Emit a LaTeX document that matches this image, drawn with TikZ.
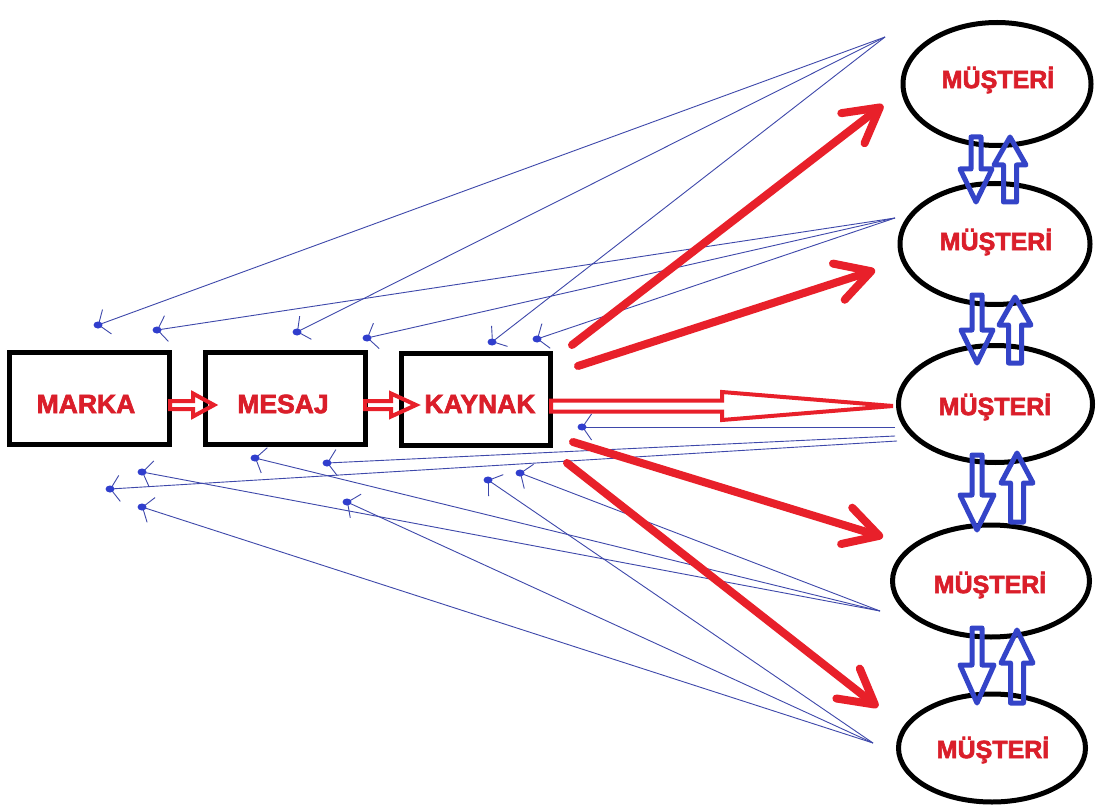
\documentclass[tikz,border=0pt]{standalone}
\usepackage{fontspec}
\setmainfont{Liberation Sans}[BoldFeatures={FakeBold=2.5}]
\usetikzlibrary{arrows.meta,shapes.geometric}
\definecolor{txtred}{RGB}{218,30,42}
\definecolor{arrred}{RGB}{232,32,42}
\definecolor{blkblue}{RGB}{52,68,200}
\definecolor{thinblue}{RGB}{62,72,170}
\definecolor{dotblue}{RGB}{48,62,205}
\tikzset{
  pics/hollowarrow/.style args={#1/#2/#3/#4}{code={
    \draw (0,#2) -- ({#1-#4},#2) -- ({#1-#4},#3) -- (#1,0) -- ({#1-#4},-#3) -- ({#1-#4},-#2) -- (0,-#2) -- cycle;
  }},
  lbl/.style={text=txtred, font=\fontsize{25}{25}\selectfont\bfseries},
  boxlbl/.style={text=txtred, font=\fontsize{26.5}{26.5}\selectfont\bfseries},
  boxnode/.style={draw=black, line width=5pt, fill=white, rectangle, minimum height=92pt, inner sep=0pt},
  cust/.style={draw=black, line width=5pt, ellipse, inner sep=0pt},
  thinline/.style={thinblue, line width=0.9pt, -{Straight Barb[length=9pt,width=26pt]}},
  blob/.style={fill=dotblue},
  redarrow/.style={arrred, line width=8pt, line cap=round, -{Straight Barb[length=34pt,width=38pt,round]}},
  redblock/.style={arrred, line width=4pt, line join=miter},
  blueblock/.style={blkblue, line width=5pt, line join=round},
}
\begin{document}
\begin{tikzpicture}[x=1pt,y=-1pt]
\useasboundingbox (0,0) rectangle (1097,810);
\fill[white] (0,0) rectangle (1097,810);

% sources and targets of thin blue arrows
\coordinate (s1) at (885,37);
\coordinate (s2) at (895,218);
\coordinate (s3a) at (895,427);
\coordinate (s3b) at (895,436);
\coordinate (s3c) at (897,441);
\coordinate (s4) at (880,611);
\coordinate (s5) at (873,743);
\coordinate (u1) at (98,325);
\coordinate (u2) at (157,330);
\coordinate (u3) at (297,332);
\coordinate (u4) at (367,338);
\coordinate (u5) at (492,342);
\coordinate (u6) at (537,339);
\coordinate (l1) at (582,427);
\coordinate (l2) at (327,463);
\coordinate (l3) at (110,489);
\coordinate (l4) at (255,458);
\coordinate (l5) at (142,472);
\coordinate (l6) at (520,473);
\coordinate (l7) at (142,507);
\coordinate (l8) at (347,502);
\coordinate (l9) at (488,480);

\foreach \s/\t in {s1/u1,s1/u3,s1/u5,s2/u2,s2/u4,s2/u6,s3a/l1,s3b/l2,s3c/l3,s4/l4,s4/l5,s4/l6,s5/l7,s5/l8,s5/l9}{
  \draw[thinline] (\s) -- (\t);
  \fill[blob] (\t) ellipse (4.5pt and 3.5pt);
}

% boxes
\node[boxnode, minimum width=160pt] (marka) at (89.5,398.5) {};
\node[boxnode, minimum width=160pt] (mesaj) at (285.5,398.5) {};
\node[boxnode, minimum width=149pt] (kaynak) at (476,399.5) {};
\node[boxlbl] (tmarka) at (86,404) {MARKA};
\node[boxlbl] (tmesaj) at (283,404) {MESAJ};
\node[boxlbl] (tkaynak) at (480,404) {KAYNAK};

% ellipses
\node[cust, minimum width=188pt, minimum height=123pt] (e1) at (997,84) {};
\node[cust, minimum width=190pt, minimum height=121pt] (e2) at (995,244) {};
\node[cust, minimum width=194pt, minimum height=117pt] (e3) at (995.5,404) {};
\node[cust, minimum width=197pt, minimum height=112pt] (e4) at (991,581) {};
\node[cust, minimum width=187pt, minimum height=108pt] (e5) at (992,748) {};
\node[lbl] (t1) at (998,80) {MÜŞTERİ};
\node[lbl] (t2) at (996,242) {MÜŞTERİ};
\node[lbl] (t3) at (995,407) {MÜŞTERİ};
\node[lbl] (t4) at (990,585) {MÜŞTERİ};
\node[lbl] (t5) at (993,750) {MÜŞTERİ};

% red block arrows
\pic[redblock] at (170,405) {hollowarrow=44/4/11.5/21};
\pic[redblock] at (365,405) {hollowarrow=51/4/11.5/25};
\pic[redblock] at (551,406) {hollowarrow=342/5.5/14/171};

% red thick arrows
\coordinate (r1s) at (572,345);
\coordinate (r2s) at (578,366);
\coordinate (r4s) at (573,442);
\coordinate (r5s) at (567,463);
\coordinate (r1e) at (883,105);
\coordinate (r2e) at (875,270);
\coordinate (r4e) at (883,537);
\coordinate (r5e) at (878,707);
\draw[redarrow] (r1s) -- (r1e);
\draw[redarrow] (r2s) -- (r2e);
\draw[redarrow] (r4s) -- (r4e);
\draw[redarrow] (r5s) -- (r5e);

% blue block arrows between customers
\pic[blueblock, rotate=-90] at (976,137) {hollowarrow=65/5/16/33};
\pic[blueblock, rotate=90] at (1010,202) {hollowarrow=65/6.5/16/28};
\pic[blueblock, rotate=-90] at (977,295) {hollowarrow=68/5/16/33};
\pic[blueblock, rotate=90] at (1015,363) {hollowarrow=66/6.5/16/28};
\pic[blueblock, rotate=-90] at (977,455) {hollowarrow=75/5/17/35};
\pic[blueblock, rotate=90] at (1017,522) {hollowarrow=69/6.5/16/30};
\pic[blueblock, rotate=-90] at (977,628) {hollowarrow=75/5/17/38};
\pic[blueblock, rotate=90] at (1017,703) {hollowarrow=73/6.5/16/33};
\end{tikzpicture}
\end{document}
